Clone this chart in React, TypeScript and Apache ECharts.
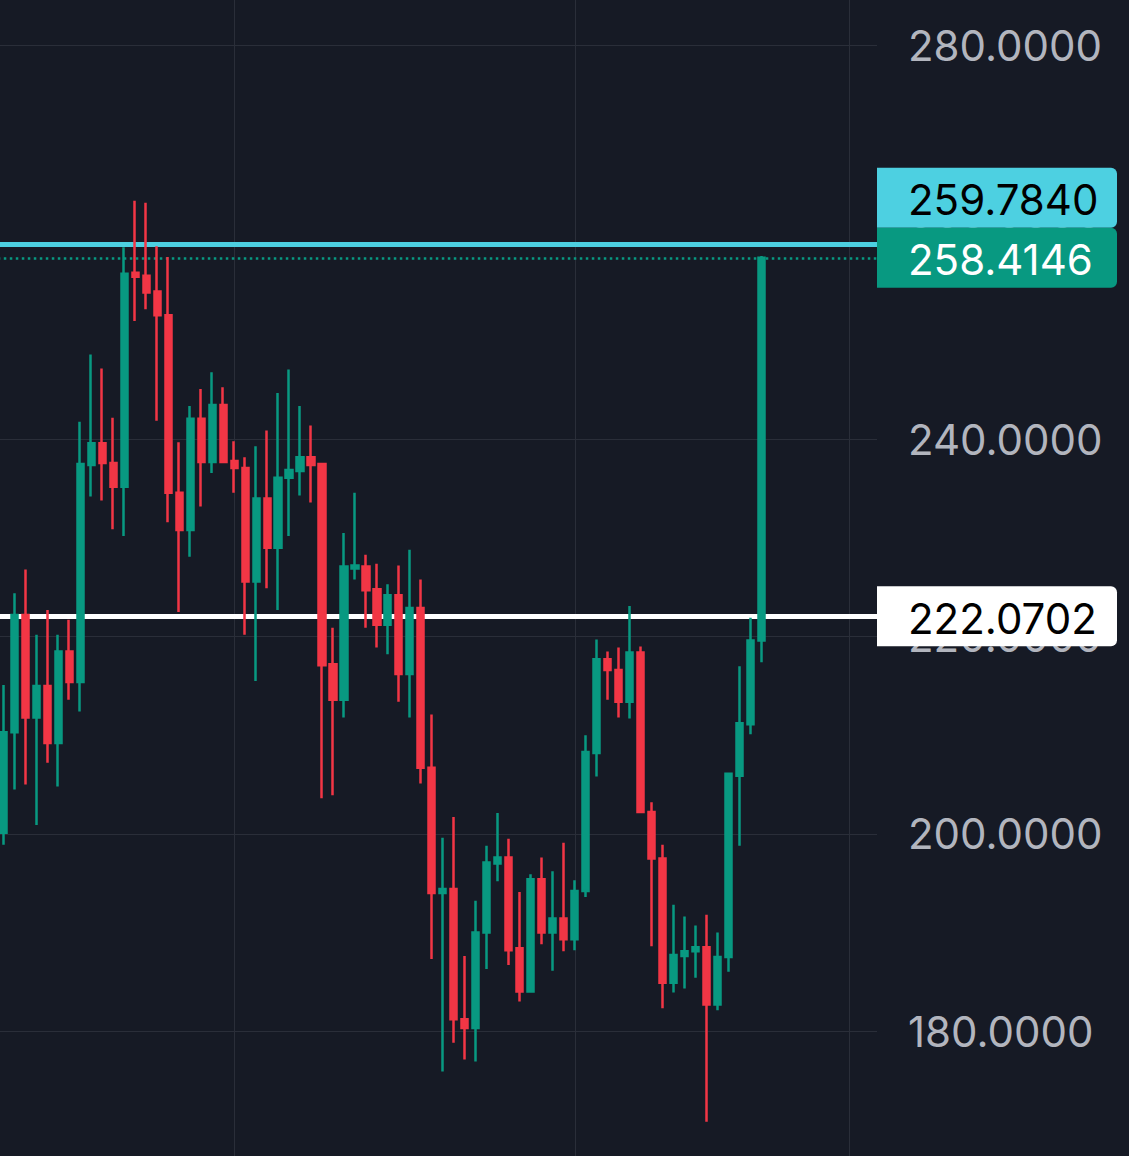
import React, { useEffect, useRef } from "react";
import * as echarts from "echarts";

// ---- data ----
const openP = [
  200.1, 210.3, 222.2, 211.8, 215.0, 209.2, 218.5, 215.4, 237.4, 239.6,
  237.6, 235.2, 256.9, 256.6, 255.0, 252.6, 234.6, 230.8, 242.1, 237.7,
  243.5, 237.8, 237.1, 225.6, 234.0, 229.0, 236.1, 236.8, 238.2, 237.5,
  217.2, 213.6, 226.9, 227.1, 224.8, 221.2, 224.2, 216.2, 222.9, 206.7,
  194.0, 194.4, 181.2, 180.3, 190.0, 197.0, 197.6, 188.4, 184.0, 195.4,
  190.0, 191.4, 189.3, 194.2, 208.2, 217.7, 216.6, 213.4, 218.4, 202.2,
  197.5, 184.9, 187.6, 188.1, 188.5, 182.7, 187.5, 205.9, 211.1, 219.6,
];
const closeP = [
  210.3, 222.2, 211.8, 215.0, 209.2, 218.5, 215.4, 237.5, 239.6, 237.6,
  235.2, 256.8, 256.5, 254.9, 252.6, 234.6, 230.8, 242.1, 237.7, 243.5,
  237.7, 237.1, 225.6, 234.0, 229.0, 236.1, 236.9, 238.2, 237.4, 217.1,
  213.6, 227.1, 227.2, 224.7, 221.2, 224.2, 216.2, 222.9, 206.7, 194.0,
  194.4, 181.2, 180.3, 190.0, 197.1, 197.6, 188.2, 184.0, 195.4, 190.0,
  191.4, 189.3, 194.2, 208.3, 217.7, 216.6, 213.4, 218.4, 202.2, 197.5,
  184.9, 187.7, 188.1, 188.5, 182.7, 187.5, 206.1, 211.2, 219.6, 258.4146,
];
const lowP = [
  198.9, 204.5, 205.0, 200.9, 207.2, 204.8, 213.6, 212.4, 234.2, 233.8,
  230.9, 230.2, 252.0, 253.2, 241.9, 231.6, 222.5, 228.1, 233.2, 236.6,
  237.6, 234.6, 220.2, 215.5, 224.9, 222.7, 230.2, 234.3, 233.6, 203.6,
  203.9, 211.8, 225.8, 220.9, 218.9, 218.2, 213.4, 211.8, 205.1, 187.3,
  175.9, 178.8, 177.1, 176.9, 186.3, 195.2, 186.7, 183.0, 183.9, 188.8,
  186.1, 188.1, 188.2, 193.6, 205.8, 213.6, 211.8, 211.7, 202.1, 188.6,
  182.3, 183.9, 184.3, 185.4, 170.8, 182.1, 186.0, 198.8, 210.1, 217.4,
];
const highP = [
  215.1, 224.4, 226.8, 220.2, 222.7, 220.2, 221.7, 241.8, 248.6, 247.2,
  242.2, 259.5, 264.2, 264.0, 259.6, 258.5, 239.7, 243.4, 245.1, 246.8,
  245.3, 239.8, 238.2, 239.3, 240.9, 244.7, 247.1, 243.4, 241.4, 237.6,
  220.9, 230.5, 234.6, 228.3, 227.4, 225.3, 227.2, 228.8, 225.8, 212.1,
  199.6, 201.7, 187.6, 193.2, 198.8, 202.1, 199.5, 194.1, 195.9, 197.6,
  196.2, 199.1, 195.3, 210.0, 219.7, 218.5, 218.9, 223.1, 219.0, 203.2,
  198.9, 192.8, 191.6, 190.7, 191.8, 190.0, 206.2, 217.0, 221.9, 258.6,
];
const slotCount = 80; // bar slots on the time axis (incl. empty right margin)
const categories = Array.from({ length: slotCount }, (_, i) => String(i + 1));
const timeGridSlots = [21, 52, 77];
const highLevel = 259.784; // cyan line
const baseLevel = 222.0702; // white line
const lastPrice = closeP[closeP.length - 1];
const yMin = 160;
const yMax = 300;
const yStep = 20;

const BG = "#161a25";
const GRIDC = "#2a2e39";
const UP = "#089981";
const DOWN = "#f23645";
const CYAN = "#4dd0e1";
const FONT = "Inter, 'Noto Sans', sans-serif";

export default function App() {
  const ref = useRef<HTMLDivElement>(null);
  useEffect(() => {
    if (!ref.current) return;
    const chart = echarts.init(ref.current, null, { renderer: "svg" });
    const candles = openP.map((o, i) => [o, closeP[i], lowP[i], highP[i]]);
    const gridRight = 877;
    chart.setOption({
      animation: false,
      backgroundColor: BG,
      grid: {
        left: -2.2,
        right: 1129 - gridRight,
        top: -152.2,
        bottom: -72.2,
        containLabel: false,
        outerBoundsMode: "none",
      },
      xAxis: {
        type: "category",
        data: categories,
        boundaryGap: true,
        axisLine: { show: false },
        axisTick: { show: false },
        axisLabel: { show: false },
        splitLine: { show: false },
      },
      yAxis: {
        type: "value",
        position: "right",
        min: yMin,
        max: yMax,
        interval: yStep,
        axisLine: { show: false },
        axisTick: { show: false },
        splitLine: { lineStyle: { color: GRIDC, width: 1 } },
        axisLabel: {
          color: "#b2b5be",
          fontSize: 42,
          fontFamily: FONT,
          margin: 31,
          showMinLabel: false,
          showMaxLabel: false,
          formatter: (v: number) => v.toFixed(4),
        },
      },
      series: [
        {
          type: "candlestick",
          data: candles,
          barWidth: 6.6,
          z: 3,
          itemStyle: {
            color: UP,
            color0: DOWN,
            borderColor: UP,
            borderColor0: DOWN,
            borderWidth: 2.5,
          },
          markLine: {
            silent: true,
            z: 1,
            symbol: "none",
            label: { show: false },
            data: [
              ...timeGridSlots.map((s) => ({
                xAxis: s,
                lineStyle: { color: GRIDC, width: 1, type: "solid" },
              })),
              { yAxis: highLevel, lineStyle: { color: CYAN, width: 5, type: "solid" } },
              { yAxis: lastPrice, lineStyle: { color: UP, width: 2.5, type: [2.5, 3.5] } },
              { yAxis: baseLevel, lineStyle: { color: "#ffffff", width: 5, type: "solid" } },
            ],
          },
        },
      ],
    });

    const yOf = (v: number) => chart.convertToPixel({ yAxisIndex: 0 }, v) as number;
    const boxW = 240;
    const boxH = 60;
    const textX = gridRight + 31;
    const yLast = yOf(lastPrice);
    const yBase = yOf(baseLevel);
    const mkBox = (top: number, fill: string, txt: string, tcol: string) => [
      {
        type: "rect",
        z: 100,
        shape: { x: gridRight, y: top, width: boxW, height: boxH, r: [0, 6, 6, 0] },
        style: { fill },
      },
      {
        type: "text",
        z: 101,
        style: {
          x: textX,
          y: top + boxH / 2 + 2,
          text: txt,
          fill: tcol,
          fontSize: 42,
          fontFamily: FONT,
          align: "left",
          verticalAlign: "middle",
        },
      },
    ];
    const greenTop = yLast - boxH / 2;
    chart.setOption({
      graphic: [
        ...mkBox(greenTop - boxH, CYAN, highLevel.toFixed(4), "#000000"),
        ...mkBox(greenTop, UP, lastPrice.toFixed(4), "#ffffff"),
        ...mkBox(yBase - boxH / 2, "#ffffff", baseLevel.toFixed(4), "#000000"),
      ],
    });
    return () => chart.dispose();
  }, []);
  return (
    <div
      ref={ref}
      style={{ position: "fixed", left: 0, top: 0, width: 1129, height: 1156 }}
    />
  );
}
